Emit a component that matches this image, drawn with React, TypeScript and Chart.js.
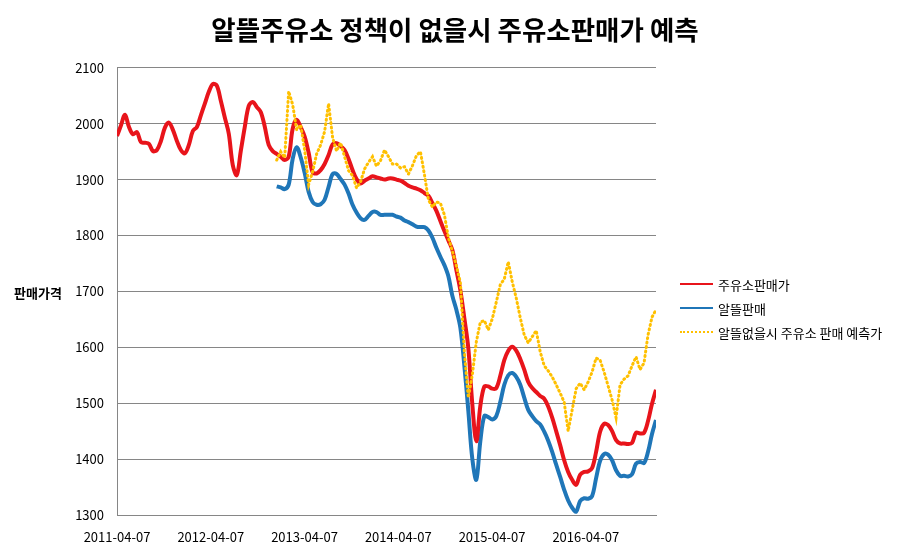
import React, { useEffect, useRef } from "react";
import { Chart, registerables } from "chart.js";

Chart.register(...registerables);

const TITLE = "알뜰주유소 정책이 없을시 주유소판매가 예측";
const Y_TITLE = "판매가격";
const SERIES_NAMES = ["주유소판매가", "알뜰판매", "알뜰없을시 주유소 판매 예측가"];
const SERIES_COLORS = ["#E8141B", "#1F76B8", "#FFC000"];
const YEAR_LABELS = ["2011-04-07", "2012-04-07", "2013-04-07", "2014-04-07", "2015-04-07", "2016-04-07"];
// sample spacing in years from 2011-04-07
const STEP_YEARS = 5.749 / 135;
const X_MAX_YEARS = 5.749;

const RED = [
  1978, 1997, 2016, 1994, 1981, 1985, 1967, 1966, 1964, 1951,
  1953, 1969, 1993, 2002, 1989, 1969, 1953, 1947, 1962, 1987,
  1994, 2015, 2036, 2057, 2071, 2068, 2041, 2011, 1982, 1926,
  1908, 1951, 1994, 2032, 2039, 2030, 2021, 1995, 1962, 1951,
  1946, 1941, 1935, 1941, 1991, 2007, 1994, 1977, 1948, 1913,
  1911, 1917, 1928, 1944, 1963, 1965, 1960, 1953, 1937, 1917,
  1901, 1893, 1898, 1902, 1906, 1904, 1902, 1900, 1902, 1902,
  1900, 1898, 1894, 1889, 1886, 1884, 1881, 1876, 1871, 1858,
  1844, 1826, 1808, 1791, 1774, 1738, 1702, 1652, 1598, 1498,
  1432, 1495, 1530, 1530, 1526, 1527, 1549, 1577, 1594, 1601,
  1594, 1579, 1560, 1538, 1527, 1520, 1513, 1508, 1494, 1474,
  1450, 1425, 1398, 1377, 1363, 1354, 1372, 1377, 1378, 1384,
  1413, 1449, 1463, 1461, 1450, 1434, 1428, 1428, 1427, 1429,
  1447, 1446, 1447, 1468, 1499, 1524,
];

const BLUE_START = 40;
const BLUE = [
  1888, 1886, 1883, 1891, 1937, 1958, 1940, 1912, 1878, 1860,
  1855, 1856, 1864, 1887, 1910, 1910, 1901, 1891, 1875, 1855,
  1841, 1831, 1828, 1835, 1842, 1842, 1837, 1837, 1837, 1837,
  1834, 1832, 1827, 1824, 1820, 1816, 1815, 1815, 1809, 1796,
  1778, 1762, 1747, 1727, 1692, 1667, 1635, 1567, 1486, 1400,
  1363, 1432, 1477, 1475, 1471, 1477, 1502, 1533, 1550, 1554,
  1547, 1533, 1510, 1488, 1477, 1468, 1462, 1449, 1433, 1413,
  1390, 1368, 1345, 1326, 1313, 1306, 1325, 1330, 1329, 1334,
  1366, 1397, 1409, 1408, 1398, 1380, 1370, 1370, 1369, 1373,
  1392, 1395, 1393, 1413, 1445, 1470,
];

const YELLOW_START = 40;
const YELLOW = [
  1935, 1950, 1939, 2058, 2034, 1989, 1998, 1953, 1891, 1914,
  1946, 1962, 1986, 2036, 1975, 1951, 1966, 1941, 1916, 1907,
  1885, 1896, 1919, 1931, 1941, 1924, 1934, 1953, 1941, 1928,
  1928, 1921, 1923, 1910, 1925, 1943, 1950, 1909, 1864, 1851,
  1860, 1858, 1837, 1796, 1772, 1746, 1716, 1592, 1510, 1551,
  1610, 1645, 1648, 1631, 1651, 1681, 1712, 1722, 1753, 1717,
  1688, 1653, 1622, 1608, 1619, 1630, 1592, 1567, 1558, 1547,
  1533, 1518, 1502, 1450, 1488, 1526, 1536, 1524, 1538, 1556,
  1581, 1577, 1556, 1531, 1506, 1474, 1533, 1543, 1549, 1567,
  1583, 1560, 1572, 1622, 1654, 1667,
];

const toPoints = (vals: number[], start: number) =>
  vals.map((v, k) => ({ x: (start + k) * STEP_YEARS, y: v }));

const FONT = '"Noto Sans CJK KR", "Noto Sans", sans-serif';

export default function App() {
  const ref = useRef<HTMLCanvasElement | null>(null);
  useEffect(() => {
    if (!ref.current) return;
    Chart.defaults.font.family = FONT;
    Chart.defaults.color = "#000";
    const chart = new Chart(ref.current, {
      type: "line",
      data: {
        datasets: [
          {
            label: SERIES_NAMES[0],
            data: toPoints(RED, 0),
            borderColor: SERIES_COLORS[0],
            backgroundColor: SERIES_COLORS[0],
            borderWidth: 4,
            pointRadius: 0,
            tension: 0.35,
            order: 1,
          },
          {
            label: SERIES_NAMES[1],
            data: toPoints(BLUE, BLUE_START),
            borderColor: SERIES_COLORS[1],
            backgroundColor: SERIES_COLORS[1],
            borderWidth: 4,
            pointRadius: 0,
            tension: 0.35,
            order: 2,
          },
          {
            label: SERIES_NAMES[2],
            data: toPoints(YELLOW, YELLOW_START),
            borderColor: SERIES_COLORS[2],
            backgroundColor: SERIES_COLORS[2],
            borderWidth: 3,
            borderDash: [1, 3.5],
            borderCapStyle: "round",
            pointRadius: 0,
            tension: 0,
            order: 0,
          },
        ],
      },
      options: {
        responsive: false,
        animation: false,
        devicePixelRatio: 1,
        layout: { padding: { left: 0, right: 0, top: 0, bottom: 0 } },
        plugins: {
          title: {
            display: true,
            text: TITLE,
            font: { size: 26.5, weight: "bold", family: FONT },
            color: "#000",
            padding: { top: 14, bottom: 22 },
          },
          legend: { display: false },
          tooltip: { enabled: false },
        },
        scales: {
          x: {
            type: "linear",
            min: 0,
            max: X_MAX_YEARS,
            afterBuildTicks: (s: any) => {
              s.ticks = YEAR_LABELS.map((_, k) => ({ value: k }));
            },
            afterFit: (s: any) => {
              s.height = 40;
            },
            grid: { display: false, drawTicks: false },
            border: { display: true, color: "#868686", width: 1 },
            ticks: {
              autoSkip: false,
              maxRotation: 0,
              padding: 14,
              font: { size: 13, family: FONT },
              color: "#000",
              callback: (_v: any, i: number) => YEAR_LABELS[i],
            },
          },
          y: {
            type: "linear",
            position: "left",
            min: 1300,
            max: 2100,
            afterFit: (s: any) => {
              s.width = 117;
            },
            grid: { color: "#868686", lineWidth: 1, drawTicks: false },
            border: { display: true, color: "#868686", width: 1 },
            ticks: {
              stepSize: 100,
              padding: 13,
              font: { size: 13, family: FONT },
              color: "#000",
              callback: (v: any) => String(v),
            },
          },
          legendSpace: {
            type: "linear",
            position: "right",
            display: true,
            afterFit: (s: any) => {
              s.width = 254;
            },
            grid: { display: false, drawTicks: false },
            border: { display: false },
            ticks: { display: false },
          },
        },
      },
    });
    return () => chart.destroy();
  }, []);

  const legendTops = [276, 300, 324];

  return (
    <div style={{ position: "absolute", left: 0, top: 0, width: 910, height: 555, background: "#fff" }}>
      <canvas ref={ref} width={910} height={555} style={{ display: "block" }} />
      <div
        style={{
          position: "absolute",
          left: 14,
          top: 284,
          fontFamily: FONT,
          fontWeight: "bold",
          fontSize: 13,
          lineHeight: "18px",
          color: "#000",
          whiteSpace: "nowrap",
        }}
      >
        {Y_TITLE}
      </div>
      {SERIES_NAMES.map((name, k) => (
        <div
          key={name}
          style={{ position: "absolute", left: 680, top: legendTops[k], height: 18, width: 230 }}
        >
          <div
            style={{
              position: "absolute",
              left: 0,
              top: 7,
              width: 33,
              height: 0,
              borderTop: `2px ${k === 2 ? "dotted" : "solid"} ${SERIES_COLORS[k]}`,
            }}
          />
          <div
            style={{
              position: "absolute",
              left: 38,
              top: 0,
              fontFamily: FONT,
              fontSize: 13,
              lineHeight: "18px",
              color: "#000",
              whiteSpace: "nowrap",
            }}
          >
            {name}
          </div>
        </div>
      ))}
    </div>
  );
}
